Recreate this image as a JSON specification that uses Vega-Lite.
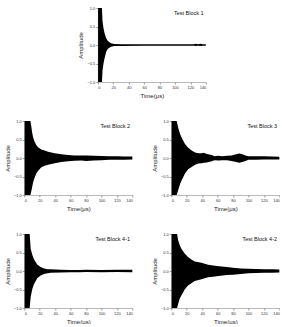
{
  "$schema": "https://vega.github.io/schema/vega-lite/v6.json",
  "padding": {"left": 4, "top": 6, "right": 0, "bottom": 0},
  "config": {
    "view": {"stroke": null},
    "font": "Liberation Sans",
    "axis": {"labelFontSize": 4, "titleFontSize": 6, "tickSize": 2, "labelPadding": 1, "titlePadding": 3, "grid": false, "labelOverlap": false,
      "domainColor": "#777", "tickColor": "#555", "labelColor": "#333", "titleColor": "#222", "titleFontWeight": "normal", "domainWidth": 0.5, "tickWidth": 0.6},
    "axisX": {"labelFlush": 1},
    "axisY": {"labelFlush": false}
  },
  "datasets": {
    "b1": [
      {"t": 0.3, "hi": 1, "lo": -1}, {"t": 5.3, "hi": 1, "lo": -1}, {"t": 6, "hi": 0.65, "lo": -0.7}, {"t": 7.3, "hi": 0.45, "lo": -0.5},
      {"t": 8.7, "hi": 0.32, "lo": -0.36}, {"t": 10.8, "hi": 0.18, "lo": -0.18}, {"t": 13, "hi": 0.11, "lo": -0.1}, {"t": 17, "hi": 0.05, "lo": -0.05},
      {"t": 21.6, "hi": 0.03, "lo": -0.03}, {"t": 30, "hi": 0.02, "lo": -0.025}, {"t": 60, "hi": 0.02, "lo": -0.02}, {"t": 100, "hi": 0.02, "lo": -0.02},
      {"t": 124, "hi": 0.02, "lo": -0.02}, {"t": 127, "hi": 0.035, "lo": -0.03}, {"t": 130, "hi": 0.02, "lo": -0.02}, {"t": 133, "hi": 0.035, "lo": -0.03},
      {"t": 136, "hi": 0.02, "lo": -0.02}, {"t": 140, "hi": 0.02, "lo": -0.02}
    ],
    "b2": [
      {"t": 0.3, "hi": 1, "lo": -1}, {"t": 7.8, "hi": 1, "lo": -1}, {"t": 9, "hi": 0.85, "lo": -0.9}, {"t": 10, "hi": 0.7, "lo": -0.8},
      {"t": 11.3, "hi": 0.56, "lo": -0.66}, {"t": 13.4, "hi": 0.43, "lo": -0.53}, {"t": 15.5, "hi": 0.35, "lo": -0.42}, {"t": 17.7, "hi": 0.29, "lo": -0.35},
      {"t": 22, "hi": 0.23, "lo": -0.25}, {"t": 26.4, "hi": 0.2, "lo": -0.21}, {"t": 30.7, "hi": 0.17, "lo": -0.18}, {"t": 35, "hi": 0.15, "lo": -0.16},
      {"t": 39.4, "hi": 0.13, "lo": -0.14}, {"t": 48, "hi": 0.1, "lo": -0.11}, {"t": 56.7, "hi": 0.08, "lo": -0.09}, {"t": 65, "hi": 0.07, "lo": -0.075},
      {"t": 74, "hi": 0.065, "lo": -0.07}, {"t": 80, "hi": 0.07, "lo": -0.08}, {"t": 90, "hi": 0.06, "lo": -0.065}, {"t": 100, "hi": 0.055, "lo": -0.06},
      {"t": 110, "hi": 0.05, "lo": -0.05}, {"t": 120, "hi": 0.045, "lo": -0.045}, {"t": 130, "hi": 0.04, "lo": -0.045}, {"t": 140, "hi": 0.04, "lo": -0.04}
    ],
    "b3": [
      {"t": 0.3, "hi": 1, "lo": -1}, {"t": 6.9, "hi": 1, "lo": -1}, {"t": 9.1, "hi": 0.8, "lo": -0.85}, {"t": 11.3, "hi": 0.65, "lo": -0.7},
      {"t": 13.4, "hi": 0.55, "lo": -0.6}, {"t": 17.7, "hi": 0.38, "lo": -0.42}, {"t": 22.1, "hi": 0.27, "lo": -0.3}, {"t": 26.4, "hi": 0.2, "lo": -0.24},
      {"t": 30.7, "hi": 0.15, "lo": -0.18}, {"t": 35, "hi": 0.13, "lo": -0.15}, {"t": 39.4, "hi": 0.13, "lo": -0.14}, {"t": 42, "hi": 0.14, "lo": -0.13},
      {"t": 46, "hi": 0.11, "lo": -0.12}, {"t": 52.4, "hi": 0.08, "lo": -0.09}, {"t": 56, "hi": 0.05, "lo": -0.06}, {"t": 61, "hi": 0.06, "lo": -0.07},
      {"t": 66, "hi": 0.05, "lo": -0.06}, {"t": 72, "hi": 0.06, "lo": -0.06}, {"t": 78, "hi": 0.07, "lo": -0.08}, {"t": 84, "hi": 0.1, "lo": -0.11},
      {"t": 88, "hi": 0.12, "lo": -0.13}, {"t": 92, "hi": 0.1, "lo": -0.11}, {"t": 96, "hi": 0.07, "lo": -0.08}, {"t": 100, "hi": 0.05, "lo": -0.05},
      {"t": 110, "hi": 0.045, "lo": -0.045}, {"t": 120, "hi": 0.045, "lo": -0.04}, {"t": 130, "hi": 0.04, "lo": -0.04}, {"t": 140, "hi": 0.035, "lo": -0.04}
    ],
    "b4": [
      {"t": 0.3, "hi": 1, "lo": -1}, {"t": 6.9, "hi": 1, "lo": -1}, {"t": 8.2, "hi": 0.6, "lo": -0.7}, {"t": 10.4, "hi": 0.43, "lo": -0.48},
      {"t": 12.6, "hi": 0.31, "lo": -0.35}, {"t": 16.9, "hi": 0.17, "lo": -0.19}, {"t": 21.2, "hi": 0.11, "lo": -0.12}, {"t": 25.5, "hi": 0.07, "lo": -0.08},
      {"t": 30, "hi": 0.05, "lo": -0.06}, {"t": 34.2, "hi": 0.045, "lo": -0.05}, {"t": 47.2, "hi": 0.035, "lo": -0.04}, {"t": 60, "hi": 0.03, "lo": -0.035},
      {"t": 71, "hi": 0.03, "lo": -0.035}, {"t": 80, "hi": 0.035, "lo": -0.03}, {"t": 100, "hi": 0.03, "lo": -0.035}, {"t": 120, "hi": 0.035, "lo": -0.03},
      {"t": 140, "hi": 0.035, "lo": -0.035}
    ],
    "b5": [
      {"t": 0.3, "hi": 1, "lo": -1}, {"t": 7.4, "hi": 1, "lo": -1}, {"t": 8.7, "hi": 0.84, "lo": -0.9}, {"t": 10.8, "hi": 0.7, "lo": -0.75},
      {"t": 13, "hi": 0.6, "lo": -0.66}, {"t": 17.3, "hi": 0.47, "lo": -0.5}, {"t": 21.6, "hi": 0.38, "lo": -0.39}, {"t": 26, "hi": 0.31, "lo": -0.33},
      {"t": 30.3, "hi": 0.26, "lo": -0.27}, {"t": 39, "hi": 0.22, "lo": -0.22}, {"t": 47.6, "hi": 0.17, "lo": -0.17}, {"t": 56.3, "hi": 0.14, "lo": -0.15},
      {"t": 71.4, "hi": 0.11, "lo": -0.11}, {"t": 80, "hi": 0.09, "lo": -0.1}, {"t": 90, "hi": 0.07, "lo": -0.08}, {"t": 100, "hi": 0.06, "lo": -0.06},
      {"t": 110, "hi": 0.055, "lo": -0.055}, {"t": 120, "hi": 0.05, "lo": -0.05}, {"t": 130, "hi": 0.045, "lo": -0.045}, {"t": 140, "hi": 0.04, "lo": -0.04}
    ]
  },
  "vconcat": [
    {
      "width": 108, "height": 74,
      "layer": [
        {"data": {"name": "b1"}, "mark": {"type": "area", "color": "black"},
         "encoding": {
           "x": {"field": "t", "type": "quantitative", "scale": {"domain": [0, 140]}, "axis": {"values": [0, 20, 40, 60, 80, 100, 120, 140], "title": "Time(μs)"}},
           "y": {"field": "hi", "type": "quantitative", "scale": {"domain": [-1, 1]}, "axis": {"values": [-1, -0.5, 0, 0.5, 1], "format": ".1f", "title": "Amplitude"}},
           "y2": {"field": "lo"}}},
        {"data": {"values": [{"label": "Test Block 1"}]}, "mark": {"type": "text", "align": "right", "baseline": "middle", "fontSize": 5.5, "color": "#111"},
         "encoding": {"x": {"datum": 137, "type": "quantitative", "axis": {"values": [0, 20, 40, 60, 80, 100, 120, 140], "title": "Time(μs)"}}, "y": {"datum": 0.86, "type": "quantitative", "axis": {"values": [-1, -0.5, 0, 0.5, 1], "format": ".1f", "title": "Amplitude"}}, "text": {"field": "label"}}}
      ]
    },
    {
      "hconcat": [
        {
          "width": 108, "height": 74,
          "layer": [
            {"data": {"name": "b2"}, "mark": {"type": "area", "color": "black"},
             "encoding": {
               "x": {"field": "t", "type": "quantitative", "scale": {"domain": [0, 140]}, "axis": {"values": [0, 20, 40, 60, 80, 100, 120, 140], "title": "Time(μs)"}},
               "y": {"field": "hi", "type": "quantitative", "scale": {"domain": [-1, 1]}, "axis": {"values": [-1, -0.5, 0, 0.5, 1], "format": ".1f", "title": "Amplitude"}},
               "y2": {"field": "lo"}}},
            {"data": {"values": [{"label": "Test Block 2"}]}, "mark": {"type": "text", "align": "right", "baseline": "middle", "fontSize": 5.5, "color": "#111"},
             "encoding": {"x": {"datum": 137, "type": "quantitative", "axis": {"values": [0, 20, 40, 60, 80, 100, 120, 140], "title": "Time(μs)"}}, "y": {"datum": 0.86, "type": "quantitative", "axis": {"values": [-1, -0.5, 0, 0.5, 1], "format": ".1f", "title": "Amplitude"}}, "text": {"field": "label"}}}
          ]
        },
        {
          "width": 108, "height": 74,
          "layer": [
            {"data": {"name": "b3"}, "mark": {"type": "area", "color": "black"},
             "encoding": {
               "x": {"field": "t", "type": "quantitative", "scale": {"domain": [0, 140]}, "axis": {"values": [0, 20, 40, 60, 80, 100, 120, 140], "title": "Time(μs)"}},
               "y": {"field": "hi", "type": "quantitative", "scale": {"domain": [-1, 1]}, "axis": {"values": [-1, -0.5, 0, 0.5, 1], "format": ".1f", "title": "Amplitude"}},
               "y2": {"field": "lo"}}},
            {"data": {"values": [{"label": "Test Block 3"}]}, "mark": {"type": "text", "align": "right", "baseline": "middle", "fontSize": 5.5, "color": "#111"},
             "encoding": {"x": {"datum": 137, "type": "quantitative", "axis": {"values": [0, 20, 40, 60, 80, 100, 120, 140], "title": "Time(μs)"}}, "y": {"datum": 0.86, "type": "quantitative", "axis": {"values": [-1, -0.5, 0, 0.5, 1], "format": ".1f", "title": "Amplitude"}}, "text": {"field": "label"}}}
          ]
        }
      ],
      "spacing": 18
    },
    {
      "hconcat": [
        {
          "width": 108, "height": 74,
          "layer": [
            {"data": {"name": "b4"}, "mark": {"type": "area", "color": "black"},
             "encoding": {
               "x": {"field": "t", "type": "quantitative", "scale": {"domain": [0, 140]}, "axis": {"values": [0, 20, 40, 60, 80, 100, 120, 140], "title": "Time(μs)"}},
               "y": {"field": "hi", "type": "quantitative", "scale": {"domain": [-1, 1]}, "axis": {"values": [-1, -0.5, 0, 0.5, 1], "format": ".1f", "title": "Amplitude"}},
               "y2": {"field": "lo"}}},
            {"data": {"values": [{"label": "Test Block 4-1"}]}, "mark": {"type": "text", "align": "right", "baseline": "middle", "fontSize": 5.5, "color": "#111"},
             "encoding": {"x": {"datum": 137, "type": "quantitative", "axis": {"values": [0, 20, 40, 60, 80, 100, 120, 140], "title": "Time(μs)"}}, "y": {"datum": 0.86, "type": "quantitative", "axis": {"values": [-1, -0.5, 0, 0.5, 1], "format": ".1f", "title": "Amplitude"}}, "text": {"field": "label"}}}
          ]
        },
        {
          "width": 108, "height": 74,
          "layer": [
            {"data": {"name": "b5"}, "mark": {"type": "area", "color": "black"},
             "encoding": {
               "x": {"field": "t", "type": "quantitative", "scale": {"domain": [0, 140]}, "axis": {"values": [0, 20, 40, 60, 80, 100, 120, 140], "title": "Time(μs)"}},
               "y": {"field": "hi", "type": "quantitative", "scale": {"domain": [-1, 1]}, "axis": {"values": [-1, -0.5, 0, 0.5, 1], "format": ".1f", "title": "Amplitude"}},
               "y2": {"field": "lo"}}},
            {"data": {"values": [{"label": "Test Block 4-2"}]}, "mark": {"type": "text", "align": "right", "baseline": "middle", "fontSize": 5.5, "color": "#111"},
             "encoding": {"x": {"datum": 137, "type": "quantitative", "axis": {"values": [0, 20, 40, 60, 80, 100, 120, 140], "title": "Time(μs)"}}, "y": {"datum": 0.86, "type": "quantitative", "axis": {"values": [-1, -0.5, 0, 0.5, 1], "format": ".1f", "title": "Amplitude"}}, "text": {"field": "label"}}}
          ]
        }
      ],
      "spacing": 18
    }
  ],
  "center": true,
  "spacing": 21
}
